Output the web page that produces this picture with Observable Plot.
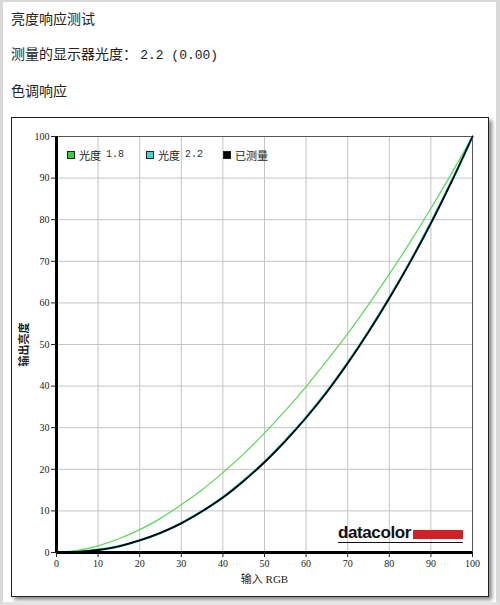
<!DOCTYPE html>
<html><head><meta charset="utf-8">
<script src="https://cdn.jsdelivr.net/npm/d3@7"></script>
<script src="https://cdn.jsdelivr.net/npm/@observablehq/plot@0.6"></script>
<style>
body{margin:0;background:#fff;}
#page{position:relative;width:500px;height:605px;box-sizing:border-box;border-left:3px solid #d9d9d9;border-top:2px solid #d9d9d9;border-right:4px solid #d9d9d9;border-bottom:3px solid #e4e4e4;font-family:"Noto Sans CJK SC",sans-serif;color:#222;overflow:hidden;}
.t{position:absolute;left:8px;font-size:14px;line-height:18px;white-space:pre;}
.t .n{font-family:"Liberation Mono",monospace;font-size:13px;}
#panel{position:absolute;left:8px;top:115px;width:476px;height:478px;border:1px solid #222;box-shadow:3px 3px 4px #8a8a8a;background:#fff;}
#chart{position:absolute;left:0;top:0;}
.lg{position:absolute;font-size:11px;line-height:12px;display:flex;align-items:center;white-space:pre;}
.lg i{display:inline-block;width:6px;height:6px;border:1px solid #222;margin-right:4px;}
.lg .n{font-family:"Liberation Mono",monospace;font-size:10px;color:#333;margin-left:5px;}
#logo{position:absolute;left:326px;top:408px;width:125px;height:16px;border-bottom:1px solid #111;}
#logo span{position:absolute;left:0;top:-3px;font-family:"Liberation Sans",sans-serif;font-weight:bold;font-size:17px;letter-spacing:-0.4px;color:#111;}
#logo b{position:absolute;left:75px;top:4px;width:50px;height:9px;background:#d0202a;}
</style>
</head><body>
<div id="page">
  <div class="t" style="top:7px">亮度响应测试</div>
  <div class="t" style="top:42px">测量的显示器光度： <span class="n">2.2 (0.00)</span></div>
  <div class="t" style="top:79px">色调响应</div>
  <div id="panel">
    <div id="chart"></div>
    <div class="lg" style="left:55px;top:31px"><i style="background:#3ccf3c"></i>光度<span class="n">1.8</span></div>
    <div class="lg" style="left:134px;top:31px"><i style="background:#3cd6d0"></i>光度<span class="n">2.2</span></div>
    <div class="lg" style="left:211px;top:31px"><i style="background:#000"></i>已测量</div>
    <div id="logo"><span>datacolor</span><b></b></div>
  </div>
</div>
<script>
const inputRGB   = [0,5,10,15,20,25,30,35,40,45,50,55,60,65,70,75,80,85,90,95,100];
const gamma18    = [0,0.5,1.6,3.3,5.5,8.2,11.5,15.1,19.2,23.7,28.7,34.1,39.9,46.1,52.6,59.6,66.9,74.6,82.7,91.2,100];
const gamma22    = [0,0.15,0.65,1.5,2.9,4.7,7.1,9.9,13.3,17.3,21.8,26.9,32.5,38.7,45.6,53.1,61.2,69.9,79.3,89.3,100];
const measured   = [0,0.15,0.6,1.5,2.9,4.7,7.0,9.9,13.2,17.2,21.7,26.8,32.4,38.6,45.5,53.0,61.1,69.8,79.1,89.2,100];
const xTicks     = [0,10,20,30,40,50,60,70,80,90,100];
const yTicks     = [0,10,20,30,40,50,60,70,80,90,100];

const rows = (ys) => inputRGB.map((x, i) => ({x, y: ys[i]}));

const chart = Plot.plot({
  width: 476, height: 470,
  marginLeft: 44, marginRight: 16, marginTop: 18, marginBottom: 36,
  x: {domain: [0, 100]},
  y: {domain: [0, 100]},
  style: {fontFamily: "'Liberation Serif','Noto Sans CJK SC',serif", fontSize: "10px", color: "#222", background: "transparent"},
  marks: [
    Plot.gridX(xTicks, {stroke: "#c4c4c4", strokeOpacity: 1}),
    Plot.gridY(yTicks, {stroke: "#c4c4c4", strokeOpacity: 1}),
    Plot.frame({stroke: "#555"}),
    Plot.line(rows(gamma18), {x: "x", y: "y", stroke: "#5ad65a", strokeWidth: 1.2, curve: "catmull-rom"}),
    Plot.line(rows(gamma22), {x: "x", y: "y", stroke: "#2ccfc8", strokeWidth: 2.4, curve: "catmull-rom"}),
    Plot.line(rows(measured), {x: "x", y: "y", stroke: "#000", strokeWidth: 1.8, curve: "catmull-rom"}),
    Plot.ruleX([0], {stroke: "#000", strokeWidth: 3}),
    Plot.ruleY([0], {stroke: "#000", strokeWidth: 3}),
    Plot.axisX(xTicks, {tickSize: 5, tickPadding: 2, label: null}),
    Plot.axisX({label: "输入 RGB", labelAnchor: "center", labelArrow: "none", labelOffset: 30, ticks: [], fontSize: 11}),
    Plot.axisY(yTicks, {tickSize: 5, tickPadding: 2, label: null}),
    Plot.axisY({label: "输出亮度", labelAnchor: "center", labelArrow: "none", labelOffset: 36, ticks: [], fontSize: 11, fontWeight: "bold"})
  ]
});
document.getElementById("chart").appendChild(chart);
</script>
</body></html>
